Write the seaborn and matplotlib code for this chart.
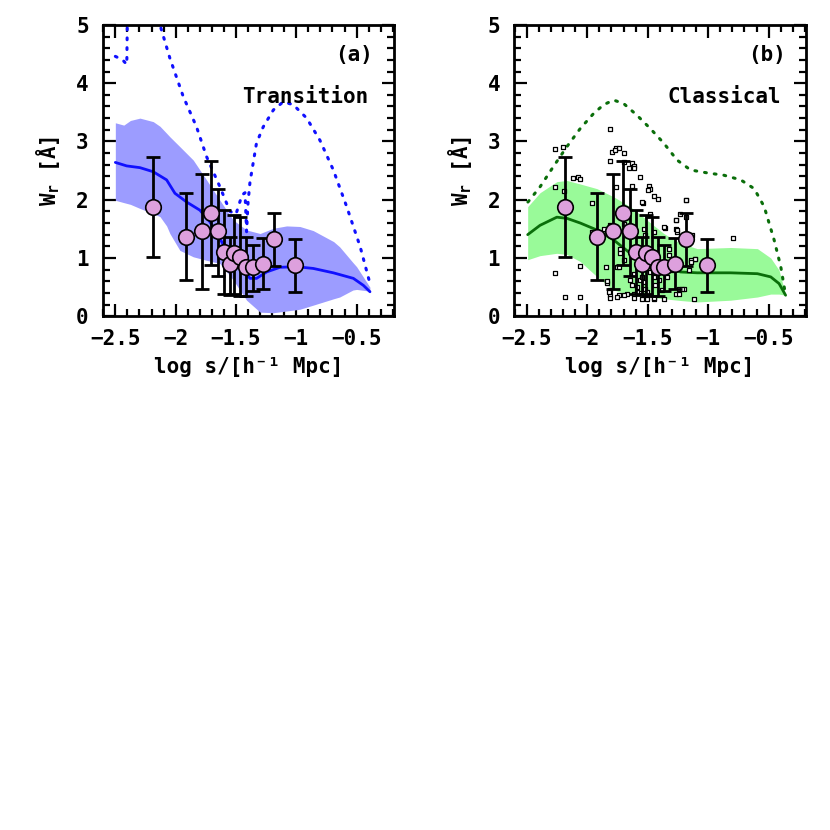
import numpy as np
import pandas as pd
import matplotlib
matplotlib.use("Agg")
import matplotlib.pyplot as plt
import seaborn as sns
from matplotlib.ticker import MultipleLocator, FixedLocator

# ---------------- data ----------------
# observed points (pink circles, same in both panels)
obs_x = [-2.186, -1.917, -1.784, -1.707, -1.649, -1.597, -1.55, -1.514, -1.467, -1.417, -1.362, -1.274, -1.185, -1.008]
obs_y = [1.88, 1.36, 1.46, 1.78, 1.46, 1.10, 0.89, 1.08, 1.02, 0.85, 0.85, 0.90, 1.32, 0.88]
obs_hi = [2.74, 2.11, 2.44, 2.66, 2.19, 1.83, 1.36, 1.735, 1.70, 1.36, 1.23, 1.35, 1.775, 1.32]
obs_lo = [1.02, 0.62, 0.47, 0.876, 0.69, 0.38, 0.36, 0.39, 0.34, 0.34, 0.435, 0.46, 0.865, 0.42]

# panel (a) Transition model
a_x = [-2.5, -2.406, -2.296, -2.186, -2.075, -2.006, -1.909, -1.799, -1.716, -1.633, -1.578, -1.495,
       -1.425, -1.384, -1.329, -1.246, -1.135, -0.997, -0.859, -0.693, -0.527, -0.444, -0.389]
a_med = [2.64, 2.58, 2.55, 2.48, 2.34, 2.11, 1.96, 1.82, 1.62, 1.33, 1.13, 0.96,
         0.76, 0.65, 0.65, 0.76, 0.84, 0.85, 0.82, 0.745, 0.65, 0.53, 0.42]
a_band_x = [-2.5, -2.43, -2.375, -2.296, -2.186, -2.13, -2.075, -2.048, -1.965, -1.854, -1.744, -1.633,
            -1.522, -1.412, -1.30, -1.19, -1.08, -0.97, -0.86, -0.69, -0.64, -0.53, -0.5, -0.39]
a_band_hi = [3.32, 3.28, 3.36, 3.40, 3.34, 3.26, 3.14, 3.08, 2.91, 2.68, 2.34, 1.99,
             1.65, 1.48, 1.42, 1.51, 1.55, 1.54, 1.47, 1.28, 1.19, 0.92, 0.85, 0.50]
a_band_lo = [1.99, 1.95, 1.92, 1.85, 1.76, 1.71, 1.55, 1.42, 1.13, 1.02, 0.96, 0.905,
             0.62, 0.275, 0.07, 0.06, 0.09, 0.12, 0.19, 0.30, 0.33, 0.45, 0.46, 0.43]
a_dot_x = [-2.5, -2.44, -2.405, -2.395, -2.16, -2.13, -2.048, -1.937, -1.827, -1.744, -1.633, -1.55,
           -1.50, -1.45, -1.425, -1.412, -1.400, -1.384, -1.33, -1.274, -1.19, -1.108, -1.025,
           -0.914, -0.804, -0.693, -0.582, -0.47, -0.389]
a_dot_y = [4.46, 4.40, 4.32, 6.0, 6.0, 5.0, 4.43, 3.77, 3.25, 2.74, 2.22, 1.80,
           1.75, 2.08, 2.12, 1.45, 1.95, 2.3, 2.97, 3.25, 3.54, 3.68, 3.63,
           3.40, 3.02, 2.51, 1.88, 1.19, 0.56]

# panel (b) Classical model
b_x = [-2.492, -2.39, -2.251, -2.168, -2.058, -1.92, -1.782, -1.644, -1.506, -1.367, -1.229, -1.09,
       -0.814, -0.593, -0.483, -0.414, -0.36]
b_med = [1.40, 1.56, 1.70, 1.68, 1.60, 1.48, 1.31, 1.08, 0.93, 0.85, 0.76, 0.745,
         0.745, 0.73, 0.675, 0.56, 0.36]
b_hi = [1.88, 2.12, 2.31, 2.33, 2.27, 2.19, 2.05, 1.88, 1.65, 1.42, 1.25, 1.16,
        1.18, 1.16, 1.0, 0.79, 0.36]
b_lo = [0.97, 1.04, 1.08, 1.06, 0.94, 0.68, 0.45, 0.36, 0.33, 0.30, 0.27, 0.245,
        0.275, 0.33, 0.38, 0.38, 0.36]
b_dot_x = [-2.49, -2.39, -2.279, -2.168, -2.058, -1.947, -1.864, -1.782, -1.699, -1.589, -1.478, -1.367,
           -1.257, -1.146, -1.008, -0.87, -0.731, -0.62, -0.537, -0.455, -0.40, -0.36]
b_dot_y = [1.96, 2.22, 2.57, 2.91, 3.22, 3.48, 3.63, 3.71, 3.65, 3.45, 3.22, 2.97,
           2.68, 2.51, 2.46, 2.42, 2.34, 2.19, 1.88, 1.31, 0.85, 0.36]

# individual absorbers (small squares, panel b)
sq_x = [-2.265, -2.20, -2.265, -2.119, -2.08, -2.058, -1.961, -2.265, -2.182, -2.058, -2.058, -1.864,
        -1.961, -1.809, -1.837, -1.845, -1.809, -1.795, -1.809, -1.762, -1.735, -1.699, -1.63, -1.616,
        -1.657, -1.56, -1.491, -1.478, -1.45, -1.417, -1.54, -1.762, -1.629, -1.754, -1.726, -1.754,
        -1.809, -1.809, -1.74, -1.671, -1.616, -1.27, -1.265, -1.257, -1.185, -1.185, -1.353, -0.792,
        -1.11, -1.146, -1.201, -1.27, -1.243, -1.118, -1.367, -1.45, -1.533, -1.699, -1.478, -1.229,
        -1.362, -1.256, -1.533, -1.45, -1.519, -1.326, -1.74, -1.726, -1.693, -1.649, -1.616, -1.588,
        -1.56, -1.533, -1.519, -1.478, -1.45, -1.436, -1.409, -1.381, -1.34, -1.326, -1.298, -1.243,
        -1.215, -1.823, -1.754, -1.699, -1.616, -1.547, -1.505, -1.45, -1.56, -1.505, -1.588, -1.547,
        -1.629, -1.16, -1.768, -1.693, -1.61, -1.497, -1.547, -1.182, -1.27, -1.132, -1.113, -1.138,
        -2.188, -1.837, -1.809]
sq_y = [2.87, 2.90, 2.21, 2.38, 2.39, 2.35, 1.95, 0.745, 0.33, 0.33, 0.865, 1.49,
        1.45, 1.56, 0.57, 0.84, 3.22, 2.82, 2.66, 2.89, 2.88, 2.65, 2.63, 2.57,
        2.54, 2.39, 2.23, 2.18, 2.06, 2.02, 1.95, 2.22, 2.23, 1.42, 1.16, 0.85,
        0.45, 0.36, 0.36, 0.39, 0.38, 1.65, 1.49, 1.44, 1.99, 1.71, 1.51, 1.35,
        0.99, 0.96, 0.475, 0.38, 0.38, 0.29, 0.29, 0.29, 0.315, 1.58, 1.76, 1.76,
        1.53, 1.48, 1.49, 1.45, 1.39, 1.15, 0.84, 1.08, 0.96, 0.63, 0.73, 0.50,
        0.62, 0.59, 0.475, 0.76, 0.675, 0.53, 0.62, 0.45, 0.675, 1.05, 0.79, 0.475,
        0.46, 0.42, 0.33, 0.36, 0.32, 0.30, 0.30, 0.32, 0.40, 0.42, 0.42, 0.675,
        0.53, 0.80, 2.86, 2.81, 2.55, 2.16, 1.96, 1.99, 1.66, 1.40, 0.98, 0.93,
        2.15, 0.61, 0.32]

x_ticks = [-2.5, -2.0, -1.5, -1.0, -0.5]
x_ticklabels = ["\u22122.5", "\u22122", "\u22121.5", "\u22121", "\u22120.5"]
y_ticks = [0, 1, 2, 3, 4, 5]
panel_tags = ["(a)", "(b)"]
panel_names = ["Transition", "Classical"]

# ---------------- style ----------------
sns.set_theme(style="ticks")
plt.rcParams["font.family"] = ["DejaVu Sans Mono", "DejaVu Sans"]
plt.rcParams["font.weight"] = "bold"
plt.rcParams["text.color"] = "black"
plt.rcParams["axes.labelcolor"] = "black"
plt.rcParams["xtick.color"] = "black"
plt.rcParams["ytick.color"] = "black"
plt.rcParams["xtick.labelcolor"] = "black"
plt.rcParams["ytick.labelcolor"] = "black"
plt.rcParams["mathtext.fontset"] = "custom"
plt.rcParams["mathtext.rm"] = "DejaVu Sans Mono:bold"
plt.rcParams["mathtext.it"] = "DejaVu Sans Mono:bold"
plt.rcParams["mathtext.bf"] = "DejaVu Sans Mono:bold"

FS = 15
fig = plt.figure(figsize=(8.3, 8.3), dpi=100)
fig.patch.set_facecolor("white")
axA = fig.add_axes([0.1237, 0.619, 0.351, 0.351])
axB = fig.add_axes([0.6193, 0.619, 0.352, 0.351])

band_blue = "#9c9cff"
line_blue = "#1010ff"
band_green = "#99fa99"
line_green = "#0a6e0a"
dot_green = "#0a6e0a"
pink = "#dda0dd"


def style_axes(ax, tag, name):
    ax.set_xlim(-2.605, -0.19)
    ax.set_ylim(0, 5)
    ax.set_facecolor("white")
    ax.xaxis.set_major_locator(FixedLocator(x_ticks))
    ax.set_xticklabels(x_ticklabels)
    ax.yaxis.set_major_locator(FixedLocator(y_ticks))
    ax.xaxis.set_minor_locator(MultipleLocator(0.1))
    ax.yaxis.set_minor_locator(MultipleLocator(0.2))
    ax.tick_params(which="both", direction="in", top=True, right=True, colors="black",
                   labelcolor="black", labelsize=FS, width=1.6)
    ax.tick_params(which="major", length=9)
    ax.tick_params(which="minor", length=5)
    ax.tick_params(axis="x", which="major", pad=9)
    ax.tick_params(axis="y", which="major", pad=10)
    for lab in ax.get_xticklabels() + ax.get_yticklabels():
        lab.set_fontweight("bold")
        lab.set_color("black")
    for s in ax.spines.values():
        s.set_visible(True)
        s.set_linewidth(2.0)
        s.set_color("black")
    ax.set_xlabel("log s/[h\u207b\u00b9 Mpc]", fontsize=FS, fontweight="bold", labelpad=6, color="black")
    ax.set_ylabel("W$_{\\mathrm{r}}$ [\u00c5]", fontsize=FS, fontweight="bold", labelpad=10, color="black")
    ax.text(-0.36, 4.48, tag, fontsize=FS, fontweight="bold", ha="right", va="center", color="black")
    ax.text(-0.40, 3.76, name, fontsize=FS, fontweight="bold", ha="right", va="center", color="black")


def draw_obs(ax):
    y = np.array(obs_y)
    yerr = [y - np.array(obs_lo), np.array(obs_hi) - y]
    ax.errorbar(obs_x, obs_y, yerr=yerr, fmt="none", ecolor="black", elinewidth=2.0,
                capsize=5, capthick=2.0, zorder=6)
    sns.scatterplot(x=obs_x, y=obs_y, ax=ax, color=pink, edgecolor="black", linewidth=1.2,
                    s=125, zorder=7, legend=False)


# panel (a)
axA.fill_between(a_band_x, a_band_lo, a_band_hi, color=band_blue, linewidth=0, zorder=1)
sns.lineplot(x=a_x, y=a_med, ax=axA, color=line_blue, linewidth=2.0, sort=False, zorder=3)
sns.lineplot(x=a_dot_x, y=a_dot_y, ax=axA, color=line_blue, linewidth=2.2, sort=False, zorder=3,
             linestyle=(0, (0.6, 2.6)), dash_capstyle="round")
draw_obs(axA)
style_axes(axA, panel_tags[0], panel_names[0])

# panel (b)
axB.fill_between(b_x, b_lo, b_hi, color=band_green, linewidth=0, zorder=1)
sns.lineplot(x=b_x, y=b_med, ax=axB, color=line_green, linewidth=2.0, sort=False, zorder=3)
sns.lineplot(x=b_dot_x, y=b_dot_y, ax=axB, color=dot_green, linewidth=2.2, sort=False, zorder=3,
             linestyle=(0, (0.6, 2.6)), dash_capstyle="round")
sns.scatterplot(x=sq_x, y=sq_y, ax=axB, marker="s", s=12, facecolor="white",
                edgecolor="black", linewidth=0.9, zorder=4, legend=False)
draw_obs(axB)
style_axes(axB, panel_tags[1], panel_names[1])

fig.savefig("out.png", dpi=100, facecolor="white")
